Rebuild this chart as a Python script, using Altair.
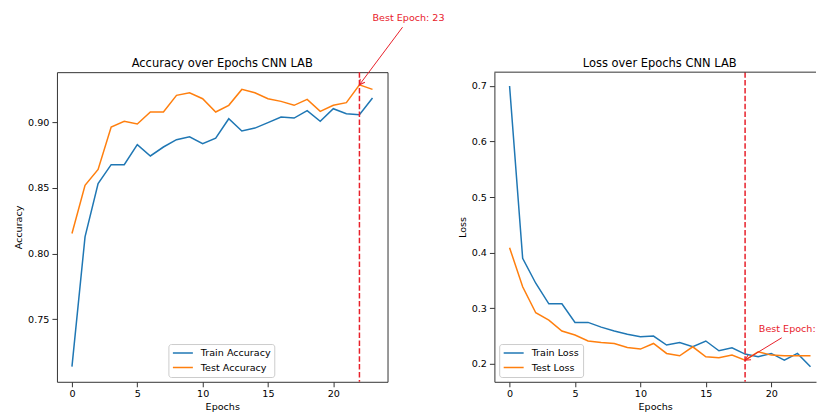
import altair as alt
import pandas as pd

FONT = "DejaVu Sans"

epochs = list(range(24))
train_acc = [0.714, 0.8127, 0.8532, 0.8676, 0.8676, 0.8828, 0.8742, 0.881, 0.8866, 0.8887,
             0.8835, 0.8877, 0.9025, 0.8932, 0.8954, 0.8995, 0.9038, 0.903, 0.9086, 0.9005,
             0.9101, 0.9063, 0.9055, 0.9182]
test_acc = [0.8152, 0.8519, 0.864, 0.8962, 0.9005, 0.8985, 0.9076, 0.9076, 0.9203, 0.9222,
            0.9177, 0.9076, 0.9127, 0.9248, 0.9222, 0.9177, 0.9157, 0.9127, 0.9172, 0.9081,
            0.9127, 0.9147, 0.9283, 0.9248]
train_loss = [0.700, 0.390, 0.345, 0.308, 0.308, 0.2745, 0.2745, 0.266, 0.259, 0.253,
              0.2486, 0.250, 0.2337, 0.2384, 0.2306, 0.241, 0.2234, 0.2288, 0.2175, 0.2126,
              0.2186, 0.2067, 0.2186, 0.1946]
test_loss = [0.409, 0.3387, 0.2919, 0.2787, 0.259, 0.2517, 0.241, 0.2384, 0.2366, 0.2294,
             0.2265, 0.2366, 0.2186, 0.2144, 0.2306, 0.2126, 0.2108, 0.2156, 0.2066, 0.2216,
             0.2156, 0.2144, 0.2144, 0.2144]

acc_labels = ["Train Accuracy", "Test Accuracy"]
loss_labels = ["Train Loss", "Test Loss"]
series_colors = ["#1f77b4", "#ff7f0e"]
epoch_ticks = [0, 5, 10, 15, 20]
acc_ticks = [0.75, 0.80, 0.85, 0.90]
loss_ticks = [0.2, 0.3, 0.4, 0.5, 0.6, 0.7]

acc_title = "Accuracy over Epochs CNN LAB"
loss_title = "Loss over Epochs CNN LAB"
best_acc_epoch = 22
best_loss_epoch = 18
acc_note = "Best Epoch: 23"
loss_note = "Best Epoch: 19"
# annotation text anchor and arrow tail (data coordinates)
acc_note_xy = (23.0, 0.9793)
acc_arrow_tail = (25.3, 0.9721)
loss_note_xy = (19.05, 0.2618)
loss_arrow_tail = (20.8, 0.2468)

RED = "#e8202a"
SPINE = "#333333"


def make_panel(train, test, labels, ticks, fmt, xdom, ydom, width, height, ytitle,
               title, best_epoch, best_val, note, note_xy, tail, head_angle,
               legend_xy, framed, title_dx):
    df = pd.DataFrame({
        "epoch": epochs + epochs,
        "value": train + test,
        "series": [labels[0]] * len(epochs) + [labels[1]] * len(epochs),
    })
    xs = alt.Scale(domain=xdom, nice=False, zero=False)
    ys = alt.Scale(domain=ydom, nice=False, zero=False)
    xax = alt.Axis(values=epoch_ticks, title="Epochs", grid=False, tickSize=5,
                   labelPadding=2, titlePadding=3, domain=not framed,
                   domainColor=SPINE, tickColor=SPINE, labelFontSize=9.6,
                   titleFontSize=9.6, labelFont=FONT, titleFont=FONT,
                   titleFontWeight="normal", labelColor="black", titleColor="black",
                   format="d", labelFlush=False)
    yax = alt.Axis(values=ticks, title=ytitle, grid=False, tickSize=5, labelPadding=3,
                   titlePadding=4, domain=not framed, domainColor=SPINE, tickColor=SPINE,
                   labelFontSize=9.6, titleFontSize=9.6, labelFont=FONT, titleFont=FONT,
                   titleFontWeight="normal", labelColor="black", titleColor="black",
                   format=fmt, labelFlush=False)

    lines = alt.Chart(df).mark_line(strokeWidth=1.5).encode(
        x=alt.X("epoch:Q", scale=xs, axis=xax),
        y=alt.Y("value:Q", scale=ys, axis=yax),
        color=alt.Color("series:N", sort=labels,
                        scale=alt.Scale(domain=labels, range=series_colors),
                        legend=alt.Legend(title=None, orient="none",
                                          legendX=legend_xy[0], legendY=legend_xy[1],
                                          symbolType="stroke", symbolSize=400,
                                          symbolStrokeWidth=1.5, labelFontSize=9.6,
                                          labelFont=FONT, labelColor="black",
                                          padding=3.5, strokeColor="#cccccc",
                                          fillColor="white", cornerRadius=2.5,
                                          rowPadding=3.5, clipHeight=11, labelOffset=7)),
    )

    vline = alt.Chart(pd.DataFrame({"epoch": [best_epoch]})).mark_rule(
        color=RED, strokeDash=[5.5, 2.4], strokeWidth=1.5
    ).encode(x=alt.X("epoch:Q", scale=xs, axis=xax))

    arrow_df = pd.DataFrame({"x0": [tail[0]], "y0": [tail[1]],
                             "x1": [best_epoch], "y1": [best_val]})
    arrow = alt.Chart(arrow_df).mark_rule(color=RED, strokeWidth=1).encode(
        x=alt.X("x0:Q", scale=xs, axis=xax), y=alt.Y("y0:Q", scale=ys, axis=yax),
        x2="x1:Q", y2="y1:Q")
    head = alt.Chart(arrow_df).mark_point(
        shape="M-0.55,1L0,0L0.55,1", filled=False, color=RED, strokeWidth=1,
        size=110, angle=head_angle, opacity=1
    ).encode(x=alt.X("x1:Q", scale=xs, axis=xax), y=alt.Y("y1:Q", scale=ys, axis=yax))

    note_df = pd.DataFrame({"x": [note_xy[0]], "y": [note_xy[1]], "t": [note]})
    text = alt.Chart(note_df).mark_text(
        align="left", baseline="middle", color=RED, fontSize=9.6, font=FONT,
        clip=not framed
    ).encode(x=alt.X("x:Q", scale=xs, axis=xax), y=alt.Y("y:Q", scale=ys, axis=yax),
             text="t:N")

    # panel title drawn as a text mark so that it sits just above the frame
    ttl = alt.Chart(pd.DataFrame({"t": [title]})).mark_text(
        align="center", baseline="alphabetic", fontSize=11.5, font=FONT, color="black"
    ).encode(x=alt.value(width / 2 + title_dx), y=alt.value(-5.5), text="t:N")

    layers = [lines, vline, arrow, head, text, ttl]
    if not framed:
        top = alt.Chart(pd.DataFrame({"k": [0]})).mark_rule(
            color=SPINE, strokeWidth=1
        ).encode(x=alt.value(0), x2=alt.value(width), y=alt.value(0))
        layers.append(top)

    view = alt.ViewBackground(stroke=SPINE if framed else None, strokeWidth=1)
    return alt.layer(*layers).properties(width=width, height=height, view=view)


left = make_panel(train_acc, test_acc, acc_labels, acc_ticks, ".2f",
                  [-1.15, 24.15], [0.7025, 0.9379], 331, 310, "Accuracy",
                  acc_title, best_acc_epoch, test_acc[best_acc_epoch],
                  acc_note, acc_note_xy, acc_arrow_tail, 216.8, (111.6, 272.2), True, 0)

right = make_panel(train_loss, test_loss, loss_labels, loss_ticks, ".1f",
                   [-1.16, 23.42], [0.1676, 0.7249], 322, 310, "Loss",
                   loss_title, best_loss_epoch, test_loss[best_loss_epoch],
                   loss_note, loss_note_xy, loss_arrow_tail, 238.8, (4.8, 272.2), False, 4.5)

chart = alt.hconcat(left, right, spacing=107, bounds="flush").resolve_scale(
    color="independent", x="independent", y="independent"
).resolve_legend(color="independent").properties(
    padding={"left": 5, "top": 3, "right": 0, "bottom": 0}
).configure(font=FONT, background="white")

chart.save("out.html", embed_options={"renderer": "svg", "actions": False})
